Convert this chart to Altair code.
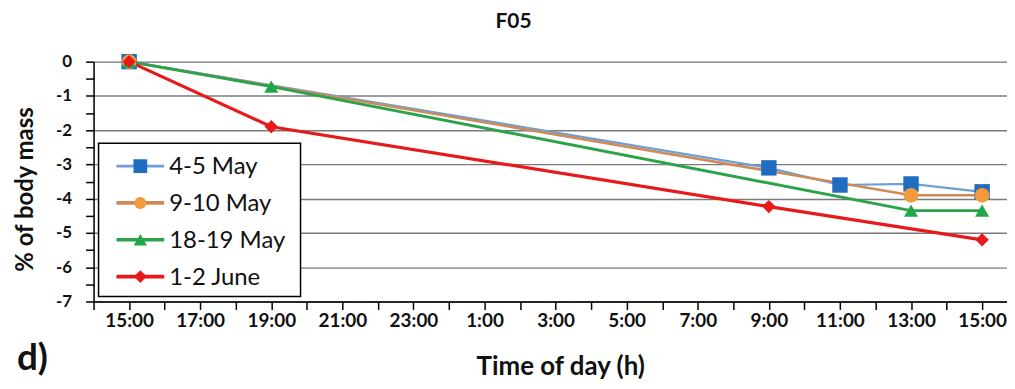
import json
import altair as alt
import pandas as pd

# ---------------- data ----------------
series = ["4-5 May", "9-10 May", "18-19 May", "1-2 June"]

# time = hours elapsed since 15:00 on the first day
hours_4_5_may = [0, 18, 20, 22, 24]
mass_4_5_may = [0.0, -3.10, -3.60, -3.57, -3.80]

hours_9_10_may = [0, 22, 24]
mass_9_10_may = [0.0, -3.90, -3.90]

hours_18_19_may = [0, 4, 22, 24]
mass_18_19_may = [0.0, -0.73, -4.35, -4.35]

hours_1_2_june = [0, 4, 18, 24]
mass_1_2_june = [0.0, -1.90, -4.23, -5.20]

tick_labels = ["15:00", "17:00", "19:00", "21:00", "23:00", "1:00", "3:00",
               "5:00", "7:00", "9:00", "11:00", "13:00", "15:00"]

# ---------------- styling ----------------
line_colors = ["#6a9fd8", "#cf8a5a", "#2ca34a", "#e8191b"]
marker_colors = ["#1f6cc0", "#f39a3d", "#1fa84a", "#e8191b"]
shapes = ["square", "circle", "triangle-up", "diamond"]
line_widths = [2.2, 3.2, 3.2, 3.2]
marker_sizes = [240, 180, 220, 210]
FONT = "Lato"

rows = []
for name, hs, ms in [
    (series[0], hours_4_5_may, mass_4_5_may),
    (series[1], hours_9_10_may, mass_9_10_may),
    (series[2], hours_18_19_may, mass_18_19_may),
    (series[3], hours_1_2_june, mass_1_2_june),
]:
    for h, m in zip(hs, ms):
        rows.append({"series": name, "hour": h, "mass": m})
df = pd.DataFrame(rows)

x_scale = alt.Scale(domain=[-1, 24.7], nice=False, zero=False)
y_scale = alt.Scale(domain=[-7, 0], nice=False, zero=False)

label_expr_x = (
    "datum.value >= 0 && datum.value % 2 == 0 ? "
    + json.dumps(tick_labels)
    + "[datum.value / 2] : ''"
)

x_axis = alt.Axis(
    values=list(range(-1, 25)),
    labelExpr=label_expr_x,
    labelOverlap=False,
    labelFont=FONT, labelFontWeight="bold", labelFontSize=19, labelColor="#111",
    labelPadding=2,
    domainColor="black", domainWidth=1.5,
    tickColor="black", tickWidth=1.5, tickSize=8,
    grid=False,
    title="Time of day (h)",
    titleFont=FONT, titleFontWeight="bold", titleFontSize=26, titleColor="#111",
    titleX=469, titleY=73, titleBaseline="alphabetic", titleAlign="center",
)

y_axis = alt.Axis(
    values=[v / 2 for v in range(-14, 1)],
    labelExpr="datum.value % 1 == 0 ? toString(datum.value) : ''",
    labelOverlap=False,
    labelFont=FONT, labelFontWeight="bold", labelFontSize=17, labelColor="#111",
    labelPadding=14,
    domainColor="black", domainWidth=1.5,
    tickColor="black", tickWidth=1.5, tickSize=8,
    grid=True, gridColor="#7a7a7a", gridWidth=1.4,
    gridOpacity={"condition": {"test": "datum.value % 1 != 0", "value": 0}, "value": 1},
    title="% of body mass",
    titleFont=FONT, titleFontWeight="bold", titleFontSize=24, titleColor="#111",
    titleX=-68, titleY=128, titleAngle=270, titleBaseline="middle", titleAlign="center",
)

base = alt.Chart(df)

lines = base.mark_line().encode(
    x=alt.X("hour:Q", scale=x_scale, axis=x_axis),
    y=alt.Y("mass:Q", scale=y_scale, axis=y_axis),
    color=alt.Color("series:N", scale=alt.Scale(domain=series, range=line_colors), legend=None),
    strokeWidth=alt.StrokeWidth("series:N", scale=alt.Scale(domain=series, range=line_widths), legend=None),
    detail="series:N",
)

points = base.mark_point(filled=True, opacity=1, strokeWidth=0).encode(
    x=alt.X("hour:Q", scale=x_scale, axis=x_axis),
    y=alt.Y("mass:Q", scale=y_scale, axis=y_axis),
    fill=alt.Fill("series:N", scale=alt.Scale(domain=series, range=marker_colors), legend=None),
    shape=alt.Shape("series:N", scale=alt.Scale(domain=series, range=shapes), legend=None),
    size=alt.Size("series:N", scale=alt.Scale(domain=series, range=marker_sizes), legend=None),
)

# ---------------- hand-drawn legend (box, line + marker, label) ----------------
legend_layers = [
    alt.Chart(alt.Data(values=[{"k": 1}])).mark_rect(
        fill="white", stroke="black", strokeWidth=1.5
    ).encode(x=alt.value(5), x2=alt.value(208), y=alt.value(82), y2=alt.value(236))
]
for i, name in enumerate(series):
    yy = 105 + 37 * i
    d = alt.Data(values=[{"s": name}])
    legend_layers.append(
        alt.Chart(d).mark_rule(color=line_colors[i], strokeWidth=line_widths[i] + 0.5).encode(
            x=alt.value(23), x2=alt.value(71), y=alt.value(yy)
        )
    )
    legend_layers.append(
        alt.Chart(d).mark_point(
            filled=True, opacity=1, strokeWidth=0, shape=shapes[i],
            fill=marker_colors[i], size=marker_sizes[i] * 0.8,
        ).encode(x=alt.value(47), y=alt.value(yy))
    )
    legend_layers.append(
        alt.Chart(d).mark_text(
            align="left", baseline="middle", font=FONT, fontSize=24, color="#111"
        ).encode(x=alt.value(76), y=alt.value(yy + 1), text="s:N")
    )

panel_label = alt.Chart(alt.Data(values=[{"t": "d)"}])).mark_text(
    align="left", baseline="alphabetic", font=FONT, fontSize=37, fontWeight="bold", color="#111"
).encode(x=alt.value(-77), y=alt.value(310), text="t:N")

chart = alt.layer(lines, points, *legend_layers, panel_label).properties(
    width=918,
    height=241,
    title=alt.TitleParams(
        "F05", font=FONT, fontSize=21, fontWeight="bold", color="#111",
        anchor="middle", dx=-37, offset=21,
    ),
    autosize=alt.AutoSizeParams(type="none"),
    padding={"left": 86, "top": 53, "right": 0, "bottom": 79},
).configure_view(stroke=None).configure(background="white")

chart.save("out.html", embed_options={"renderer": "svg", "actions": False})
